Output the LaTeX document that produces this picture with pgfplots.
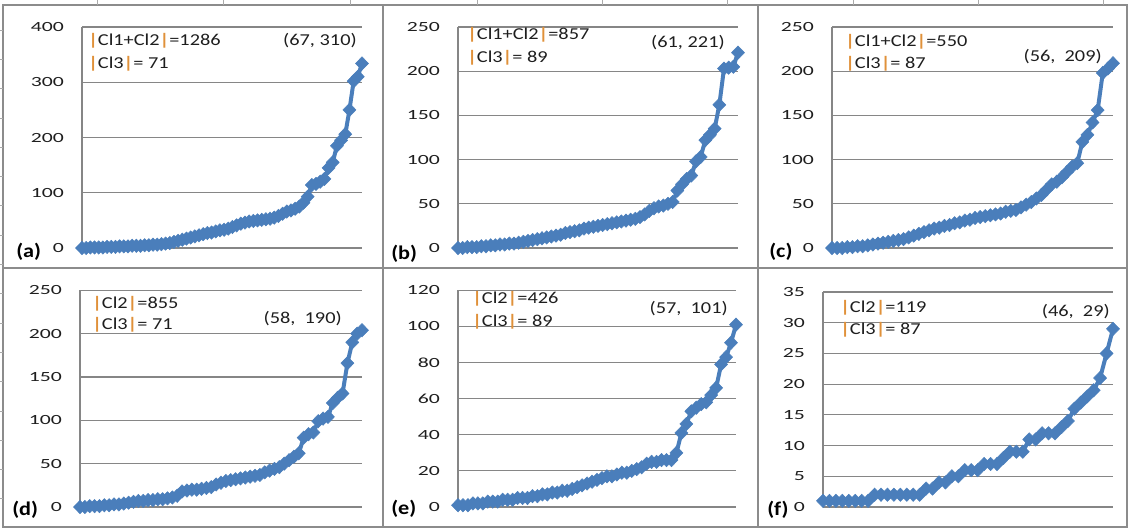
\documentclass[border=0pt]{standalone}
\usepackage{fontspec}
\setmainfont{Carlito}
\newfontfamily\tickfont{Carlito}[FakeStretch=1.55]
\newfontfamily\notefont{Carlito}[FakeStretch=1.22]
\newfontfamily\panfont{Carlito}[FakeStretch=1.15]
\usepackage{pgfplots}
\pgfplotsset{compat=1.18}
\usepackage{pgfplotstable}
\definecolor{serblue}{HTML}{4A7EBB}
\definecolor{gridg}{HTML}{868686}
\definecolor{frameg}{HTML}{8C8C8C}
\definecolor{txt}{HTML}{1E1E1E}
\definecolor{barorange}{HTML}{E0913A}

\pgfplotsset{
  panel/.style={
    scale only axis, clip=false,
    axis x line=none, axis y line=left,
    y axis line style={-, draw=gridg, line width=0.8pt},
    ymajorgrids, grid style={draw=gridg, line width=0.8pt},
    major tick length=0pt,
    xmin=1, ymin=0,
    yticklabel style={font=\tickfont\fontsize{10.5}{12}\selectfont, text=txt, xshift=-10pt},
    /pgf/number format/assume math mode=true,
    /pgf/number format/1000 sep={},
  },
  ser/.style={draw=serblue, line width=3pt, mark=diamond*,
    mark size=5pt, mark options={solid, fill=serblue, draw=serblue, line width=0.4pt, xscale=1.3}},
}
\tikzset{
  note/.style={font=\notefont\fontsize{12.5}{14}\selectfont, text=txt, inner sep=0pt},
  plab/.style={font=\panfont\bfseries\fontsize{14.5}{16}\selectfont, text=black, inner sep=0pt, anchor=west},
}
\newcommand{\vb}{\textcolor{barorange}{\textbf{|}}}

\pgfplotstableread[row sep=\\]{v\\
0\\0\\1\\1\\1\\1\\2\\2\\2\\3\\
3\\3\\4\\4\\4\\5\\5\\6\\6\\7\\
8\\9\\11\\13\\15\\17\\19\\21\\23\\25\\
27\\28\\30\\32\\33\\35\\38\\41\\44\\46\\
48\\49\\50\\51\\52\\53\\55\\58\\62\\66\\
68\\71\\75\\82\\93\\114\\116\\120\\125\\145\\
155\\185\\195\\206\\250\\302\\310\\334\\}\tabA

\pgfplotstableread[row sep=\\]{v\\
0\\0\\1\\1\\1\\2\\2\\3\\3\\4\\
4\\5\\5\\6\\7\\8\\9\\10\\11\\12\\
13\\14\\15\\17\\18\\19\\20\\22\\23\\24\\
25\\26\\27\\28\\29\\30\\31\\32\\33\\35\\
38\\42\\45\\47\\48\\50\\52\\65\\72\\78\\
82\\98\\103\\122\\128\\135\\162\\203\\204\\205\\221\\}\tabB

\pgfplotstableread[row sep=\\]{v\\
0\\0\\0\\1\\1\\2\\2\\3\\4\\5\\
6\\7\\8\\9\\10\\12\\14\\16\\18\\20\\
22\\23\\25\\26\\28\\29\\31\\32\\34\\35\\
36\\37\\38\\39\\41\\42\\43\\46\\49\\52\\
56\\60\\66\\72\\75\\80\\86\\92\\96\\120\\
128\\142\\156\\198\\203\\209\\}\tabC

\pgfplotstableread[row sep=\\]{v\\
0\\0\\1\\1\\1\\2\\2\\3\\3\\4\\
5\\6\\7\\7\\8\\8\\9\\9\\10\\11\\
13\\18\\19\\20\\20\\21\\22\\23\\26\\28\\
30\\31\\32\\33\\34\\35\\36\\37\\40\\42\\
44\\46\\50\\54\\58\\62\\80\\84\\86\\99\\
102\\104\\120\\126\\131\\166\\190\\200\\204\\}\tabD

\pgfplotstableread[row sep=\\]{v\\
1\\1\\1\\2\\2\\2\\3\\3\\3\\4\\
4\\4\\5\\5\\5\\6\\6\\7\\7\\8\\
8\\9\\9\\10\\11\\12\\13\\14\\15\\16\\
17\\17\\18\\19\\19\\20\\21\\22\\24\\25\\
25\\26\\26\\26\\30\\41\\46\\53\\55\\57\\
58\\62\\66\\79\\83\\91\\101\\}\tabE

\pgfplotstableread[row sep=\\]{v\\
1\\1\\1\\1\\1\\1\\1\\1\\2\\2\\
2\\2\\2\\2\\2\\2\\3\\3\\4\\4\\
5\\5\\6\\6\\6\\7\\7\\7\\8\\9\\
9\\9\\11\\11\\12\\12\\12\\13\\14\\16\\
17\\18\\19\\21\\25\\29\\}\tabF

\begin{document}
\begin{tikzpicture}
\useasboundingbox (0pt,0pt) rectangle (849pt,-396.75pt);

% (a)
\begin{axis}[panel, at={(61.5pt,-186pt)}, anchor=south west, width=210pt, height=165.75pt,
  xmax=68, ymax=400, ytick={0,100,...,400}]
\addplot[ser] table[x expr=\coordindex+1, y=v] {\tabA};
\end{axis}
% (b)
\begin{axis}[panel, at={(343.5pt,-186pt)}, anchor=south west, width=210pt, height=165.75pt,
  xmax=61, ymax=250, ytick={0,50,...,250}]
\addplot[ser] table[x expr=\coordindex+1, y=v] {\tabB};
\end{axis}
% (c)
\begin{axis}[panel, at={(624pt,-186pt)}, anchor=south west, width=210.75pt, height=165.75pt,
  xmax=56, ymax=250, ytick={0,50,...,250}]
\addplot[ser] table[x expr=\coordindex+1, y=v] {\tabC};
\end{axis}
% (d)
\begin{axis}[panel, at={(60pt,-380.25pt)}, anchor=south west, width=211.5pt, height=162.5pt,
  xmax=59, ymax=250, ytick={0,50,...,250}]
\addplot[ser] table[x expr=\coordindex+1, y=v] {\tabD};
\end{axis}
% (e)
\begin{axis}[panel, at={(343.5pt,-380.25pt)}, anchor=south west, width=208.5pt, height=162.5pt,
  xmax=57, ymax=120, ytick={0,20,...,120}]
\addplot[ser] table[x expr=\coordindex+1, y=v] {\tabE};
\end{axis}
% (f)
\begin{axis}[panel, at={(617.25pt,-380.25pt)}, anchor=south west, width=217.5pt, height=161.25pt,
  xmax=46, ymax=35, ytick={0,5,...,35}]
\addplot[ser] table[x expr=\coordindex+1, y=v] {\tabF};
\end{axis}

\begin{scope}[x=0.75pt, y=-0.75pt]
  % frames
  \draw[frameg, line width=1pt] (3,5) rectangle (1127,527);
  \draw[frameg, line width=1pt] (383,5) -- (383,527);
  \draw[frameg, line width=1pt] (758,5) -- (758,527);
  \draw[frameg, line width=1pt] (3,268) -- (1127,268);
  \foreach \tx in {97,223,350,477,602,727,853,978,1103} {\draw[gridg!70, line width=0.6pt] (\tx,0) -- (\tx,5);}
  \foreach \k in {0,...,16} {\draw[gridg!70, line width=0.6pt] (0,30+29.3*\k) -- (3,30+29.3*\k);}
  % notes (a)
  \node[note, anchor=west] at (88,41) {\vb Cl1+Cl2\vb=1286};
  \node[note, anchor=west] at (88,64) {\vb Cl3\vb= 71};
  \node[note, anchor=east] at (357,41) {(67, 310)};
  % (b)
  \node[note, anchor=west] at (467,35) {\vb Cl1+Cl2\vb=857};
  \node[note, anchor=west] at (467,58) {\vb Cl3\vb= 89};
  \node[note, anchor=east] at (725,43) {(61, 221)};
  % (c)
  \node[note, anchor=west] at (845,42) {\vb Cl1+Cl2\vb=550};
  \node[note, anchor=west] at (845,64) {\vb Cl3\vb= 87};
  \node[note, anchor=east] at (1102,57) {(56,\ \ 209)};
  % (d)
  \node[note, anchor=west] at (92,304) {\vb Cl2\vb=855};
  \node[note, anchor=west] at (92,325) {\vb Cl3\vb= 71};
  \node[note, anchor=east] at (342,319) {(58,\ \ 190)};
  % (e)
  \node[note, anchor=west] at (472,299) {\vb Cl2\vb=426};
  \node[note, anchor=west] at (472,322) {\vb Cl3\vb= 89};
  \node[note, anchor=east] at (728,309) {(57,\ \ 101)};
  % (f)
  \node[note, anchor=west] at (840,308) {\vb Cl2\vb=119};
  \node[note, anchor=west] at (840,330) {\vb Cl3\vb= 87};
  \node[note, anchor=east] at (1110,312) {(46,\ \ 29)};
  % panel labels
  \node[plab] at (16,252) {(a)};
  \node[plab] at (391,254) {(b)};
  \node[plab] at (769,252) {(c)};
  \node[plab] at (12,510) {(d)};
  \node[plab] at (391,509) {(e)};
  \node[plab] at (767,510) {(f)};
\end{scope}
\end{tikzpicture}
\end{document}
